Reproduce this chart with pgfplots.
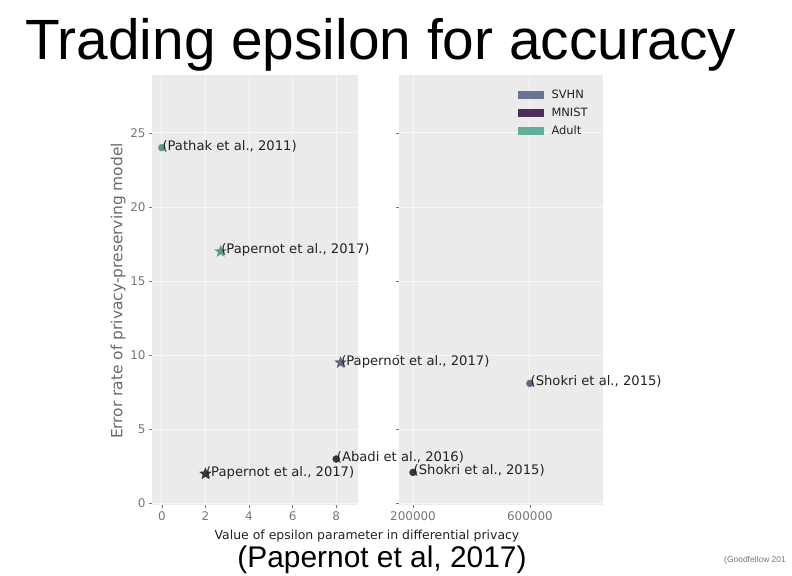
\documentclass[border=0pt]{standalone}
\usepackage{pgfplots}
\pgfplotsset{compat=1.18}
\usepackage{fontspec}
\setmainfont{DejaVu Sans}
\newfontfamily\arial{Liberation Sans}

\definecolor{bgc}{HTML}{EBEBEB}
\definecolor{gridc}{HTML}{F7F7F7}
\definecolor{svhn}{HTML}{6A7393}
\definecolor{mnist}{HTML}{4A2E58}
\definecolor{adult}{HTML}{66AE9C}
\definecolor{svhnpt}{HTML}{5E6682}
\definecolor{mnistpt}{HTML}{3A3440}
\definecolor{adultpt}{HTML}{5C9A8A}
\definecolor{tickc}{HTML}{777777}
\definecolor{labc}{HTML}{6A6A6A}
\definecolor{annc}{HTML}{222222}

\pgfdeclareplotmark{fstar}{%
  \pgfpathmoveto{\pgfpointpolar{90}{\pgfplotmarksize}}%
  \pgfpathlineto{\pgfpointpolar{126}{0.42\pgfplotmarksize}}%
  \pgfpathlineto{\pgfpointpolar{162}{\pgfplotmarksize}}%
  \pgfpathlineto{\pgfpointpolar{198}{0.42\pgfplotmarksize}}%
  \pgfpathlineto{\pgfpointpolar{234}{\pgfplotmarksize}}%
  \pgfpathlineto{\pgfpointpolar{270}{0.42\pgfplotmarksize}}%
  \pgfpathlineto{\pgfpointpolar{306}{\pgfplotmarksize}}%
  \pgfpathlineto{\pgfpointpolar{342}{0.42\pgfplotmarksize}}%
  \pgfpathlineto{\pgfpointpolar{18}{\pgfplotmarksize}}%
  \pgfpathlineto{\pgfpointpolar{54}{0.42\pgfplotmarksize}}%
  \pgfpathclose
  \pgfusepathqfillstroke}

\pgfplotsset{
  myax/.style={
    scale only axis,
    anchor=south west,
    height=430bp,
    ymin=-0.1, ymax=28.9,
    ytick={0,5,10,15,20,25},
    axis background/.style={fill=bgc},
    grid=major,
    major grid style={gridc, line width=0.9bp},
    axis x line*=bottom, axis y line*=left,
    axis line style={draw=none},
    tick align=outside,
    major tick length=3bp,
    tick style={tickc, line width=0.6bp},
    ticklabel style={font=\fontsize{12}{14}\selectfont, text=tickc},
    /pgf/number format/assume math mode=true,
    clip=false,
  },
  ann/.style={
    nodes near coords,
    point meta=explicit symbolic,
    nodes near coords style={anchor=base west, inner sep=0pt, xshift=0.5bp, yshift=-2.5bp,
      font=\fontsize{13.2}{15}\selectfont, text=annc},
  },
}

\begin{document}
\begin{tikzpicture}[x=1bp,y=1bp]
\path[use as bounding box] (0bp,0bp) rectangle (792bp,576bp);

\node[anchor=base west, inner sep=0pt, font=\arial\fontsize{57}{60}\selectfont] at (25bp,516bp) {Trading epsilon for accuracy};

% right panel
\begin{axis}[myax, at={(399bp,71bp)}, width=204bp,
  xmin=152000, xmax=850000,
  xtick={200000,600000},
  yticklabels={},
  scaled x ticks=false,
  xticklabel style={/pgf/number format/fixed, /pgf/number format/1000 sep={}},
  legend style={at={(0.95,0.975)}, anchor=north east, draw=none, fill=none,
    font=\fontsize{11.5}{13}\selectfont, row sep=4bp, column sep=6bp, text=annc},
  legend cell align=left,
  legend image code/.code={\fill[#1, draw=none] (0bp,-4bp) rectangle (26bp,4bp);},
]
\addlegendimage{fill=svhn}
\addlegendentry{SVHN}
\addlegendimage{fill=mnist}
\addlegendentry{MNIST}
\addlegendimage{fill=adult}
\addlegendentry{Adult}
\addplot[only marks, mark=*, mark size=3.5bp, color=mnistpt, ann] coordinates {(200000,2.1) [(Shokri et al., 2015)]};
\addplot[only marks, mark=*, mark size=3.5bp, color=svhnpt, ann] coordinates {(600000,8.1) [(Shokri et al., 2015)]};
\end{axis}

% left panel
\begin{axis}[myax, at={(152bp,71bp)}, width=206bp,
  xmin=-0.45, xmax=9.0,
  xtick={0,2,4,6,8},
]
\addplot[only marks, mark=*, mark size=3.5bp, color=adultpt, ann] coordinates {(0,24) [(Pathak et al., 2011)]};
\addplot[only marks, mark=fstar, mark size=6bp, color=adultpt, ann] coordinates {(2.7,17) [(Papernot et al., 2017)]};
\addplot[only marks, mark=fstar, mark size=6bp, color=svhnpt, ann] coordinates {(8.2,9.5) [(Papernot et al., 2017)]};
\addplot[only marks, mark=fstar, mark size=6bp, color=mnistpt, ann] coordinates {(2.0,2.0) [(Papernot et al., 2017)]};
\addplot[only marks, mark=*, mark size=3.5bp, color=mnistpt, ann] coordinates {(8.0,3.0) [(Abadi et al., 2016)]};
\end{axis}

\node[rotate=90, anchor=center, font=\fontsize{15.5}{17}\selectfont, text=labc] at (118bp,285bp) {Error rate of privacy-preserving model};
\node[anchor=base, inner sep=0pt, font=\fontsize{12.5}{15}\selectfont, text=annc] at (367bp,37bp) {Value of epsilon parameter in differential privacy};
\node[anchor=base, inner sep=0pt, font=\arial\fontsize{30}{34}\selectfont] at (382bp,8.5bp) {(Papernot et al, 2017)};
\node[anchor=base west, inner sep=0pt, font=\arial\fontsize{8.5}{10}\selectfont, text=tickc] at (724bp,14bp) {(Goodfellow 201};
\end{tikzpicture}
\end{document}
